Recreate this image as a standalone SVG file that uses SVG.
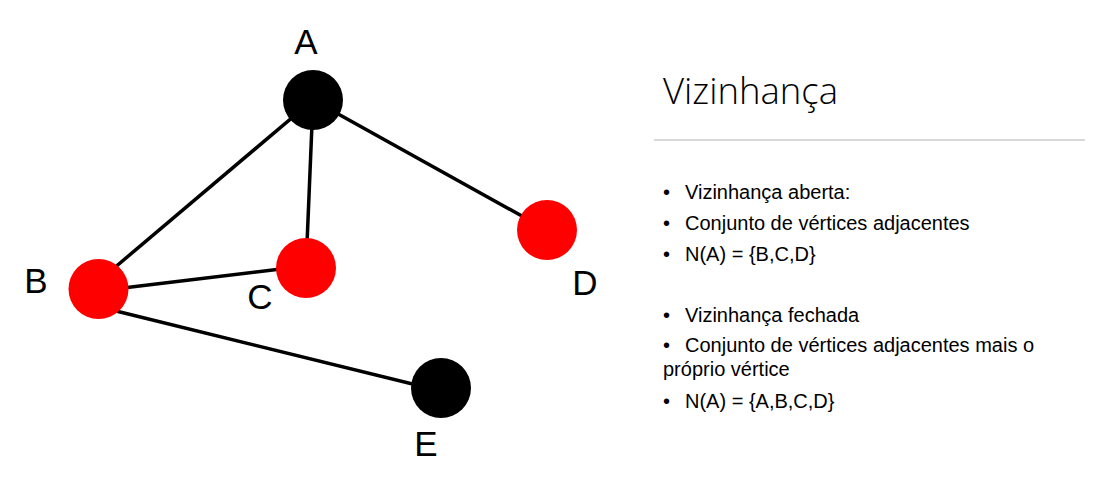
<svg xmlns="http://www.w3.org/2000/svg" width="1094" height="482" viewBox="0 0 1094 482">
  <style>
    .edge { stroke: #000; stroke-width: 3.5; fill: none; }
    .black { fill: #000; }
    .red { fill: #ff0000; }
    .lbl { font-family: "Liberation Sans", Arial, sans-serif; font-size: 35px; fill: #000; text-anchor: middle; }
    .title { font-family: "Open Sans", "Liberation Sans", sans-serif; font-weight: 300; font-size: 36px; fill: #000; }
    .txt { font-family: "Liberation Sans", Arial, sans-serif; font-size: 20px; fill: #000; }
  </style>
  <rect width="1094" height="482" fill="#fff"/>

  <!-- edges of the graph -->
  <g id="edges">
    <line class="edge" x1="313" y1="100" x2="113" y2="269"/>
    <line class="edge" x1="313" y1="100" x2="306" y2="268"/>
    <line class="edge" x1="313" y1="100" x2="547" y2="230"/>
    <line class="edge" x1="98" y1="291" x2="306" y2="266"/>
    <line class="edge" x1="116" y1="311" x2="441" y2="391"/>
  </g>

  <!-- vertices -->
  <g id="node-A">
    <circle class="black" cx="313" cy="100" r="30"/>
    <text class="lbl" x="306" y="54">A</text>
  </g>
  <g id="node-B">
    <circle class="red" cx="98.5" cy="289" r="30"/>
    <text class="lbl" x="36" y="293">B</text>
  </g>
  <g id="node-C">
    <circle class="red" cx="306" cy="268" r="30"/>
    <text class="lbl" x="260" y="309">C</text>
  </g>
  <g id="node-D">
    <circle class="red" cx="547" cy="230" r="30"/>
    <text class="lbl" x="585" y="295">D</text>
  </g>
  <g id="node-E">
    <circle class="black" cx="441" cy="388" r="30"/>
    <text class="lbl" x="426" y="456">E</text>
  </g>

  <!-- side panel text -->
  <g id="panel">
    <text class="title" x="663" y="104" textLength="175" lengthAdjust="spacingAndGlyphs">Vizinhança</text>
    <line x1="654" y1="140" x2="1085" y2="140" stroke="#d9d9d9" stroke-width="2"/>

    <text class="txt" x="663" y="199">•</text>
    <text class="txt" x="685" y="199">Vizinhança aberta:</text>
    <text class="txt" x="663" y="230">•</text>
    <text class="txt" x="685" y="230">Conjunto de vértices adjacentes</text>
    <text class="txt" x="663" y="261">•</text>
    <text class="txt" x="685" y="261">N(A) = {B,C,D}</text>

    <text class="txt" x="663" y="322">•</text>
    <text class="txt" x="685" y="322">Vizinhança fechada</text>
    <text class="txt" x="663" y="352">•</text>
    <text class="txt" x="685" y="352">Conjunto de vértices adjacentes mais o</text>
    <text class="txt" x="663" y="376">próprio vértice</text>
    <text class="txt" x="663" y="408">•</text>
    <text class="txt" x="685" y="408">N(A) = {A,B,C,D}</text>
  </g>
</svg>
